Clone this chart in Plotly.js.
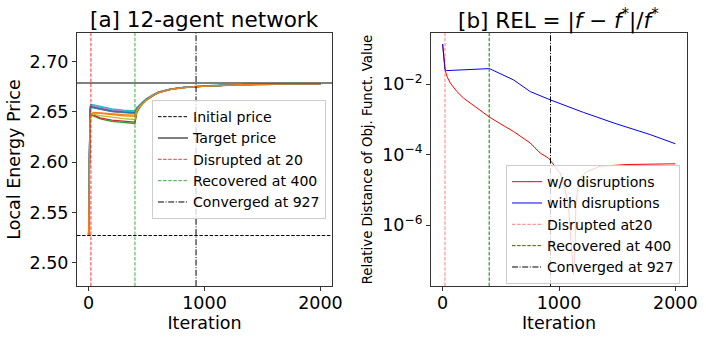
<!DOCTYPE html>
<html>
<head>
<meta charset="utf-8">
<script src="https://cdn.plot.ly/plotly-3.0.1.min.js"></script>
<style>html,body{margin:0;padding:0;background:#fff}#chart{width:706px;height:340px}</style>
</head>
<body>
<div id="chart"></div>
<script>
// ---------- Panel [a] data ----------
const ITER_A = [0, 4, 8, 12, 20, 40, 100, 200, 300, 400, 415, 440, 470, 500, 550, 600, 700, 800, 927, 1100, 1300, 1600, 2000];
const AGENT_COLORS = ['#1f77b4','#ff7f0e','#2ca02c','#d62728','#9467bd','#8c564b','#e377c2','#7f7f7f','#bcbd22','#17becf','#1f77b4','#ff7f0e'];
const agent1  = [2.527,2.600,2.640,2.652,2.6555,2.6550,2.6530,2.6512,2.6502,2.6495, 2.6530,2.6562,2.6596,2.6626,2.6663,2.6694,2.6724,2.6741,2.6752,2.6764,2.6771,2.6776,2.6778];
const agent2  = [2.527,2.585,2.625,2.640,2.6465,2.6490,2.6485,2.6472,2.6462,2.6455, 2.6512,2.6552,2.6590,2.6621,2.6660,2.6692,2.6723,2.6740,2.6751,2.6763,2.6771,2.6776,2.6778];
const agent3  = [2.527,2.590,2.630,2.642,2.6470,2.6460,2.6430,2.6405,2.6392,2.6385, 2.6490,2.6542,2.6584,2.6617,2.6657,2.6690,2.6722,2.6739,2.6751,2.6763,2.6770,2.6775,2.6778];
const agent4  = [2.527,2.592,2.632,2.644,2.6480,2.6470,2.6440,2.6418,2.6405,2.6398, 2.6495,2.6545,2.6586,2.6618,2.6658,2.6690,2.6722,2.6740,2.6751,2.6763,2.6770,2.6775,2.6778];
const agent5  = [2.527,2.602,2.642,2.653,2.6560,2.6555,2.6535,2.6518,2.6508,2.6502, 2.6536,2.6566,2.6599,2.6628,2.6665,2.6695,2.6725,2.6741,2.6752,2.6764,2.6771,2.6776,2.6778];
const agent6  = [2.527,2.598,2.638,2.651,2.6548,2.6543,2.6523,2.6505,2.6496,2.6490, 2.6527,2.6560,2.6594,2.6625,2.6662,2.6693,2.6724,2.6741,2.6752,2.6764,2.6771,2.6776,2.6778];
const agent7  = [2.527,2.603,2.643,2.654,2.6565,2.6560,2.6540,2.6522,2.6512,2.6506, 2.6540,2.6569,2.6601,2.6630,2.6666,2.6696,2.6726,2.6742,2.6753,2.6764,2.6771,2.6776,2.6778];
const agent8  = [2.527,2.597,2.637,2.650,2.6545,2.6540,2.6520,2.6502,2.6493,2.6487, 2.6525,2.6558,2.6593,2.6624,2.6662,2.6693,2.6724,2.6741,2.6752,2.6764,2.6771,2.6776,2.6778];
const agent9  = [2.527,2.588,2.628,2.641,2.6475,2.6478,2.6462,2.6445,2.6433,2.6425, 2.6505,2.6550,2.6589,2.6620,2.6659,2.6691,2.6723,2.6740,2.6751,2.6763,2.6770,2.6775,2.6778];
const agent10 = [2.527,2.604,2.644,2.655,2.6575,2.6570,2.6548,2.6530,2.6518,2.6510, 2.6545,2.6572,2.6603,2.6632,2.6668,2.6697,2.6726,2.6742,2.6753,2.6765,2.6771,2.6776,2.6778];
const agent11 = [2.527,2.599,2.639,2.651,2.6550,2.6545,2.6525,2.6507,2.6498,2.6492, 2.6528,2.6561,2.6595,2.6625,2.6663,2.6694,2.6724,2.6741,2.6752,2.6764,2.6771,2.6776,2.6778];
const agent12 = [2.527,2.586,2.626,2.640,2.6470,2.6495,2.6490,2.6480,2.6473,2.6468, 2.6515,2.6554,2.6591,2.6622,2.6661,2.6692,2.6723,2.6740,2.6751,2.6763,2.6771,2.6776,2.6778];
const AGENTS = [agent1,agent2,agent3,agent4,agent5,agent6,agent7,agent8,agent9,agent10,agent11,agent12];
const INITIAL_PRICE = 2.527;
const TARGET_PRICE = 2.6788;
const DISRUPTED_AT = 20;
const RECOVERED_AT = 400;
const CONVERGED_AT = 927;
const A_YTICKS = [2.50, 2.55, 2.60, 2.65, 2.70];
const X_TICKS = [0, 1000, 2000];

// ---------- Panel [b] data ----------
const ITER_WO = [0,5,10,15,20,30,40,66,123,180,295,403,500,609,753,838,910,960,1010,1053,1082,1102,1116,1125,1133,1139,1145,1159,1182,1240,1354,1583,2000];
const REL_WO  = [0.138,0.0794,0.0501,0.0355,0.0269,0.0200,0.0158,0.0107,0.00617,0.00401,0.00209,0.00116,0.000741,0.000454,0.000214,0.000111,7.94e-5,5.01e-5,3.02e-5,1.0e-5,3.39e-6,3.89e-7,6.76e-8,3.98e-8,1.26e-7,3.63e-7,3.39e-6,1.0e-5,2.19e-5,3.31e-5,4.68e-5,5.25e-5,5.50e-5];
const ITER_WITH = [0,5,10,15,20,32,100,200,300,403,430,467,550,609,753,925,1210,1497,1783,2000];
const REL_WITH  = [0.138,0.0794,0.0501,0.0355,0.0269,0.0243,0.0248,0.0257,0.0266,0.0277,0.0251,0.0219,0.0166,0.01324,0.00617,0.00359,0.00158,0.000741,0.000372,0.000204];
const B_YTICKS = [1e-6, 1e-4, 1e-2];
const B_YTICKTEXT = ['10<sup>−6</sup>','10<sup>−4</sup>','10<sup>−2</sup>'];

const FONT = 'DejaVu Sans';
const traces = [];
AGENTS.forEach((ys, i) => {
  traces.push({x: ITER_A, y: ys, type: 'scatter', mode: 'lines', xaxis: 'x', yaxis: 'y',
    line: {color: AGENT_COLORS[i], width: 1.3}, showlegend: false, hoverinfo: 'skip'});
});
traces.push({x: ITER_WO, y: REL_WO, type: 'scatter', mode: 'lines', xaxis: 'x2', yaxis: 'y2',
  name: 'w/o disruptions', line: {color: '#ff0000', width: 1}, legend: 'legend2', legendrank: 1});
traces.push({x: ITER_WITH, y: REL_WITH, type: 'scatter', mode: 'lines', xaxis: 'x2', yaxis: 'y2',
  name: 'with disruptions', line: {color: '#0000ff', width: 1}, legend: 'legend2', legendrank: 2});

function vline(xref, yref, x, color, dash, name, legend, rank) {
  return {type: 'line', xref: xref, yref: yref + ' domain', x0: x, x1: x, y0: 0, y1: 1,
    line: {color: color, width: 1, dash: dash}, showlegend: true, name: name, legend: legend, legendrank: rank};
}
function hline(xref, yref, y, color, width, dash, name, legend, rank) {
  return {type: 'line', xref: xref + ' domain', yref: yref, x0: 0, x1: 1, y0: y, y1: y,
    line: {color: color, width: width, dash: dash}, showlegend: true, name: name, legend: legend, legendrank: rank};
}
const DASH = '3.5px,1.6px';
const DASHDOT = '6px,1.6px,1px,1.6px';
const shapes = [
  hline('x', 'y', INITIAL_PRICE, '#000000', 1, DASH, 'Initial price', 'legend', 1),
  hline('x', 'y', TARGET_PRICE, '#555555', 1.5, 'solid', 'Target price', 'legend', 2),
  vline('x', 'y', DISRUPTED_AT, 'rgba(255,0,0,0.8)', DASH, 'Disrupted at ' + DISRUPTED_AT, 'legend', 3),
  vline('x', 'y', RECOVERED_AT, 'rgba(44,160,44,0.9)', DASH, 'Recovered at ' + RECOVERED_AT, 'legend', 4),
  vline('x', 'y', CONVERGED_AT, '#000000', DASHDOT, 'Converged at ' + CONVERGED_AT, 'legend', 5),
  vline('x2', 'y2', DISRUPTED_AT, 'rgba(255,0,0,0.5)', DASH, 'Disrupted at' + DISRUPTED_AT, 'legend2', 3),
  vline('x2', 'y2', RECOVERED_AT, '#008000', DASH, 'Recovered at ' + RECOVERED_AT, 'legend2', 4),
  vline('x2', 'y2', CONVERGED_AT, '#000000', DASHDOT, 'Converged at ' + CONVERGED_AT, 'legend2', 5)
];

const axisCommon = {showline: true, mirror: true, linecolor: '#333', linewidth: 1, ticks: 'outside',
  ticklen: 4, tickwidth: 1, tickcolor: '#333', showgrid: false, zeroline: false, ticklabelstandoff: -3,
  tickfont: {family: FONT, size: 17.5, color: '#000'}};
const W = 706, H = 340;
const layout = {
  width: W, height: H, margin: {l: 0, r: 0, t: 0, b: 0}, paper_bgcolor: '#fff', plot_bgcolor: '#fff',
  font: {family: FONT, color: '#000'},
  xaxis: Object.assign({}, axisCommon, {domain: [77/W, 332/W], range: [-100, 2100], tickvals: X_TICKS, anchor: 'y',
    title: {text: 'Iteration', font: {family: FONT, size: 17.5}, standoff: 2}}),
  yaxis: Object.assign({}, axisCommon, {domain: [1-286/H, 1-33/H], range: [2.4768, 2.7285], tickvals: A_YTICKS,
    tickformat: '.2f', anchor: 'x', ticklabelstandoff: 0, title: {text: 'Local Energy Price', font: {family: FONT, size: 17.5}, standoff: 4}}),
  xaxis2: Object.assign({}, axisCommon, {domain: [431/W, 687/W], range: [-100, 2100], tickvals: X_TICKS, anchor: 'y2',
    title: {text: 'Iteration', font: {family: FONT, size: 17.5}, standoff: 2}}),
  yaxis2: Object.assign({}, axisCommon, {domain: [1-286/H, 1-33/H], type: 'log', range: [-7.728, -0.547],
    tickvals: B_YTICKS, ticktext: B_YTICKTEXT, anchor: 'x2', ticklabelstandoff: 0,
    title: {text: 'Relative Distance of Obj. Funct. Value', font: {family: FONT, size: 13.3}, standoff: 6}}),
  shapes: shapes,
  legend: {x: 326/W, xanchor: 'right', y: 1-100/H, yanchor: 'top', bgcolor: 'rgba(255,255,255,0.8)',
    bordercolor: '#cccccc', borderwidth: 1, font: {family: FONT, size: 14.1}, tracegroupgap: 0},
  legend2: {x: 680/W, xanchor: 'right', y: 1-165/H, yanchor: 'top', bgcolor: 'rgba(255,255,255,0.8)',
    bordercolor: '#cccccc', borderwidth: 1, font: {family: FONT, size: 14.1}, tracegroupgap: 0},
  annotations: [
    {text: '[a] 12-agent network', xref: 'paper', yref: 'paper', x: 204.5/W, y: 1-19/H, xanchor: 'center', yanchor: 'middle',
      showarrow: false, font: {family: FONT, size: 21.5, color: '#000'}},
    {text: '[b] REL = |<i>f</i> − <i>f</i><sup>*</sup>|/<i>f</i><sup>*</sup>', xref: 'paper', yref: 'paper', x: 558/W, y: 1-19/H,
      xanchor: 'center', yanchor: 'middle', showarrow: false, font: {family: FONT, size: 21.5, color: '#000'}}
  ]
};
Plotly.newPlot('chart', traces, layout, {staticPlot: true, displayModeBar: false});
</script>
</body>
</html>
